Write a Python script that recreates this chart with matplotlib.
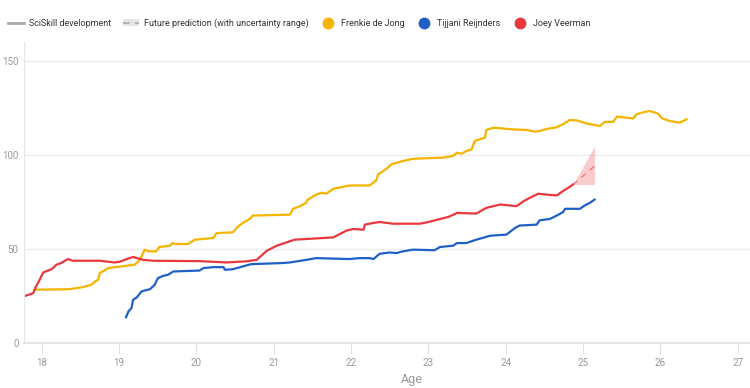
import matplotlib
matplotlib.use("Agg")
import matplotlib.pyplot as plt
from matplotlib.lines import Line2D
from matplotlib.patches import Patch

# Colours
YELLOW = "#F4B400"
BLUE = "#1F5FC6"
RED = "#E8383D"
GRAY_TXT = "#9a9a9a"
GRID = "#ececec"

# Frenkie de Jong
fdj_age = [17.92, 18.36, 18.53, 18.64, 18.69, 18.73, 18.75, 18.81, 18.86, 19.20, 19.25,
           19.29, 19.33, 19.38, 19.48, 19.52, 19.66, 19.69, 19.72, 19.89, 19.98, 20.22,
           20.26, 20.47, 20.54, 20.60, 20.69, 20.73, 21.21, 21.25, 21.34, 21.42, 21.44,
           21.55, 21.62, 21.68, 21.77, 21.98, 22.24, 22.33, 22.35, 22.46, 22.52, 22.59,
           22.67, 22.80, 23.19, 23.32, 23.37, 23.43, 23.49, 23.56, 23.60, 23.73, 23.75,
           23.84, 24.10, 24.27, 24.38, 24.44, 24.55, 24.64, 24.74, 24.83, 24.92, 25.04,
           25.22, 25.28, 25.39, 25.44, 25.65, 25.69, 25.76, 25.86, 25.97, 26.02, 26.12,
           26.25, 26.34]
fdj_val = [28.3, 28.6, 29.7, 30.9, 32.7, 33.6, 37.2, 38.5, 39.8, 41.6, 43.3,
           46.0, 49.6, 48.7, 48.7, 51.0, 51.7, 53.1, 52.6, 52.6, 54.9, 55.8,
           58.4, 58.8, 62.0, 63.8, 65.9, 67.7, 68.2, 71.3, 72.7, 74.5, 76.2,
           78.9, 79.8, 79.4, 81.9, 83.7, 83.7, 86.6, 89.6, 92.6, 94.9, 95.8,
           96.7, 97.9, 98.5, 99.4, 101.1, 100.6, 102.0, 102.9, 107.4, 109.1, 113.2,
           114.4, 113.5, 113.2, 112.3, 112.7, 113.9, 114.4, 116.2, 118.5, 118.3, 116.7,
           115.3, 117.5, 117.5, 120.3, 119.3, 121.5, 122.4, 123.3, 121.9, 119.4, 118.0,
           117.1, 118.9]

# Tijjani Reijnders
tr_age = [19.09, 19.12, 19.16, 19.18, 19.23, 19.29, 19.40, 19.46, 19.50, 19.57, 19.63,
          19.70, 20.04, 20.09, 20.22, 20.35, 20.37, 20.47, 20.60, 20.71, 21.12, 21.21,
          21.38, 21.55, 21.98, 22.11, 22.24, 22.29, 22.37, 22.50, 22.59, 22.67, 22.80,
          23.08, 23.15, 23.32, 23.37, 23.49, 23.62, 23.80, 24.01, 24.12, 24.18, 24.40,
          24.44, 24.57, 24.66, 24.74, 24.77, 24.96, 25.02, 25.09, 25.15]
tr_val = [13.7, 16.7, 18.5, 22.9, 24.3, 27.4, 28.6, 30.9, 34.4, 35.7, 36.2,
          38.0, 38.5, 39.8, 40.3, 40.3, 38.9, 39.2, 40.7, 41.9, 42.5, 42.8,
          43.9, 45.1, 44.6, 45.1, 45.1, 44.6, 47.4, 48.1, 47.8, 48.7, 49.6,
          49.3, 51.0, 51.7, 53.1, 53.1, 54.9, 57.0, 57.6, 61.1, 62.4, 62.9,
          65.2, 65.9, 67.7, 69.5, 71.3, 71.3, 73.0, 74.5, 76.2]

# Joey Veerman
jv_age = [17.76, 17.89, 17.92, 17.95, 18.02, 18.13, 18.19, 18.25, 18.30, 18.34, 18.40,
          18.75, 18.94, 19.01, 19.10, 19.18, 19.25, 19.31, 19.44, 20.04, 20.39, 20.65,
          20.78, 20.84, 20.91, 21.04, 21.17, 21.27, 21.77, 21.94, 22.03, 22.16, 22.18,
          22.29, 22.37, 22.54, 22.76, 22.89, 22.98, 23.26, 23.37, 23.62, 23.75, 23.93,
          24.14, 24.23, 24.31, 24.42, 24.52, 24.66, 24.74, 24.83, 24.87]
jv_val = [24.7, 26.5, 29.7, 31.8, 37.5, 39.3, 41.6, 42.5, 43.7, 44.6, 43.7,
          43.7, 42.8, 43.2, 44.6, 45.7, 44.9, 44.2, 43.7, 43.5, 42.8, 43.4,
          44.2, 46.4, 49.0, 51.7, 53.5, 54.9, 56.1, 59.7, 60.6, 60.2, 62.9,
          63.8, 64.3, 63.4, 63.4, 63.4, 64.1, 67.0, 69.1, 68.8, 71.8, 73.6,
          72.7, 75.3, 77.1, 79.3, 78.9, 78.4, 80.7, 83.0, 84.2]

# Joey Veerman prediction
pred_age = [24.87, 25.15]
pred_val = [84.2, 94.0]
pred_low = [84.2, 84.2]
pred_high = [84.2, 104.7]

x_ticks = [18, 19, 20, 21, 22, 23, 24, 25, 26, 27]
y_ticks = [0, 50, 100, 150]

plt.rcParams["font.family"] = ["Roboto", "DejaVu Sans"]

fig = plt.figure(figsize=(7.5, 3.88), dpi=100)
ax = fig.add_axes([0.032, 0.116, 0.968, 0.776])

ax.plot(fdj_age, fdj_val, color=YELLOW, lw=1.6, solid_joinstyle="round")
ax.plot(tr_age, tr_val, color=BLUE, lw=1.6, solid_joinstyle="round")
ax.plot(jv_age, jv_val, color=RED, lw=1.6, solid_joinstyle="round")
ax.fill_between(pred_age, pred_low, pred_high, color=RED, alpha=0.25, lw=0)
ax.plot(pred_age, pred_val, color=RED, lw=1.0, ls=(0, (4, 4)), alpha=0.6)

ax.set_xlim(17.77, 27.16)
ax.set_ylim(0, 160)
ax.set_xticks(x_ticks)
ax.set_yticks(y_ticks)
ax.grid(axis="y", color=GRID, lw=1)
ax.set_axisbelow(True)
for side in ["top", "right"]:
    ax.spines[side].set_visible(False)
ax.spines["left"].set_color("#e6e6e6")
ax.spines["bottom"].set_color("#e0e0e0")
ax.spines["bottom"].set_linewidth(1.2)
ax.tick_params(axis="x", colors="#e3e3e3", labelcolor=GRAY_TXT, length=8, pad=3, labelsize=7)
ax.tick_params(axis="y", length=0, labelcolor=GRAY_TXT, pad=4, labelsize=7)

fig.text(412 / 750, 1 - 379 / 388, "Age", ha="center", va="center", color=GRAY_TXT, fontsize=9)

handles = [
    Line2D([], [], color="#aaaaaa", lw=2),
    (Patch(facecolor="#e6e6e6", edgecolor="none"),
     Line2D([], [], color="#aaaaaa", lw=1.2, ls=(0, (4, 3)))),
    Line2D([], [], marker="o", ls="none", color=YELLOW, markersize=7.5),
    Line2D([], [], marker="o", ls="none", color=BLUE, markersize=7.5),
    Line2D([], [], marker="o", ls="none", color=RED, markersize=7.5),
]
labels = ["SciSkill development", "Future prediction (with uncertainty range)",
          "Frenkie de Jong", "Tijjani Reijnders", "Joey Veerman"]
fig.legend(handles, labels, loc="center left", bbox_to_anchor=(0.0, 1 - 23 / 388),
           ncol=5, frameon=False, fontsize=6.5, handlelength=1.8, handletextpad=0.5,
           columnspacing=1.3, labelcolor="#333333")

fig.savefig("out.png", dpi=100)
